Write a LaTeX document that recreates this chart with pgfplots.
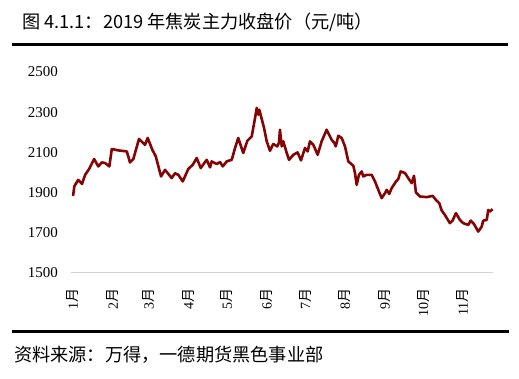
\documentclass[border=0pt]{standalone}
\usepackage{fontspec}
\setmainfont{Liberation Serif}
\newfontfamily\cjk{Noto Sans CJK SC}
\usepackage{pgfplots}
\pgfplotsset{compat=1.18}
\usepackage{pgfplotstable}
\definecolor{linered}{RGB}{132,4,4}
\definecolor{axisgray}{RGB}{210,210,210}
\pgfplotstableread{
day val
0 1882
1 1930
4 1962
7 1942
9.4 1987
12.5 2016
16.4 2066
19.7 2029
22.4 2049
24.9 2046
28.3 2029
30.2 2116
35.3 2109
41.9 2104
44.4 2049
47 2066
51.4 2166
56.1 2137
58.2 2171
61.8 2112
64.5 2079
68.6 1979
71.7 2012
76.9 1971
79.5 1995
82.1 1987
85.5 1954
89.9 2017
93.3 2037
96.4 2071
99.5 2021
104.2 2062
106.8 2024
108.1 2054
112 2041
114.6 2051
116.7 2029
119.8 2054
123.7 2062
126.3 2121
128.8 2171
132.7 2096
135.9 2157
139.3 2179
141.9 2271
143.2 2321
144.4 2287
145.2 2312
148.9 2221
151 2154
153.5 2107
156.1 2141
159.2 2129
160.5 2146
161.3 2212
162.7 2129
163.9 2154
166.6 2096
168.4 2062
171.7 2087
175.1 2099
177.7 2059
180.8 2121
182.9 2104
184.7 2154
187.3 2137
190.7 2087
193.8 2154
197.7 2212
201.6 2162
203.7 2146
204.8 2129
206.8 2182
209.4 2171
212 2129
214.6 2054
218.5 2032
219.8 1996
221.1 1937
222.9 1987
225 2004
226.3 1979
228.9 1987
232.8 1987
235.4 1954
238 1912
240.6 1871
243.2 1896
244.5 1912
246.5 1892
248.4 1921
251.8 1954
253.5 1966
255.4 2004
258.8 1996
261.3 1971
264 1946
265.8 1982
267.3 1899
270.5 1879
275.7 1876
280.4 1882
282.9 1862
285.5 1846
287.4 1809
289.9 1787
293.8 1746
295.9 1759
298.5 1796
301.6 1762
304.2 1746
308.1 1737
310 1759
312.5 1742
315.9 1704
318.6 1729
319.8 1759
322.5 1762
323.7 1812
325 1804
327.1 1816
}\coke
\begin{document}
\begin{tikzpicture}
\path[use as bounding box] (0,0) rectangle (519bp,379bp);
\node[anchor=west, inner sep=0pt] at (22bp,357bp) {\cjk\fontsize{18.2bp}{20bp}\selectfont 图 4.1.1：2019 年焦炭主力收盘价（元/吨）};
\draw[line width=2.5bp] (12bp,334.5bp) -- (508bp,334.5bp);
\draw[line width=2.7bp] (12bp,47.7bp) -- (509bp,47.7bp);
\node[anchor=west, inner sep=0pt] at (14bp,24bp) {\cjk\fontsize{18.2bp}{20bp}\selectfont 资料来源：万得，一德期货黑色事业部};
\begin{axis}[
  at={(71bp,106.5bp)}, anchor=south west,
  scale only axis, width=422bp, height=200.5bp,
  xmin=-1.6, xmax=327.4, ymin=1500, ymax=2500,
  axis x line*=bottom, axis y line*=left,
  x axis line style={draw=axisgray, line width=1bp},
  y axis line style={draw=none},
  major tick length=0pt,
  ytick={1500,1700,1900,2100,2300,2500},
  xtick={0,31,59,90,120,151,181,212,243,273,304},
  xticklabels={{1{\cjk 月}},{2{\cjk 月}},{3{\cjk 月}},{4{\cjk 月}},{5{\cjk 月}},{6{\cjk 月}},{7{\cjk 月}},{8{\cjk 月}},{9{\cjk 月}},{10{\cjk 月}},{11{\cjk 月}}},
  /pgf/number format/assume math mode=true,
  /pgf/number format/set thousands separator={},
  yticklabel style={anchor=east, inner sep=0pt, xshift=-13bp, font=\fontsize{15bp}{17bp}\selectfont},
  xticklabel style={yshift=-15.5bp, rotate=90, anchor=east, inner sep=0pt, font=\fontsize{14bp}{16bp}\selectfont},
  clip=false,
]
\addplot[color=linered, line width=2.6bp, line join=round, no markers] table[x=day, y=val] {\coke};
\end{axis}
\end{tikzpicture}
\end{document}
